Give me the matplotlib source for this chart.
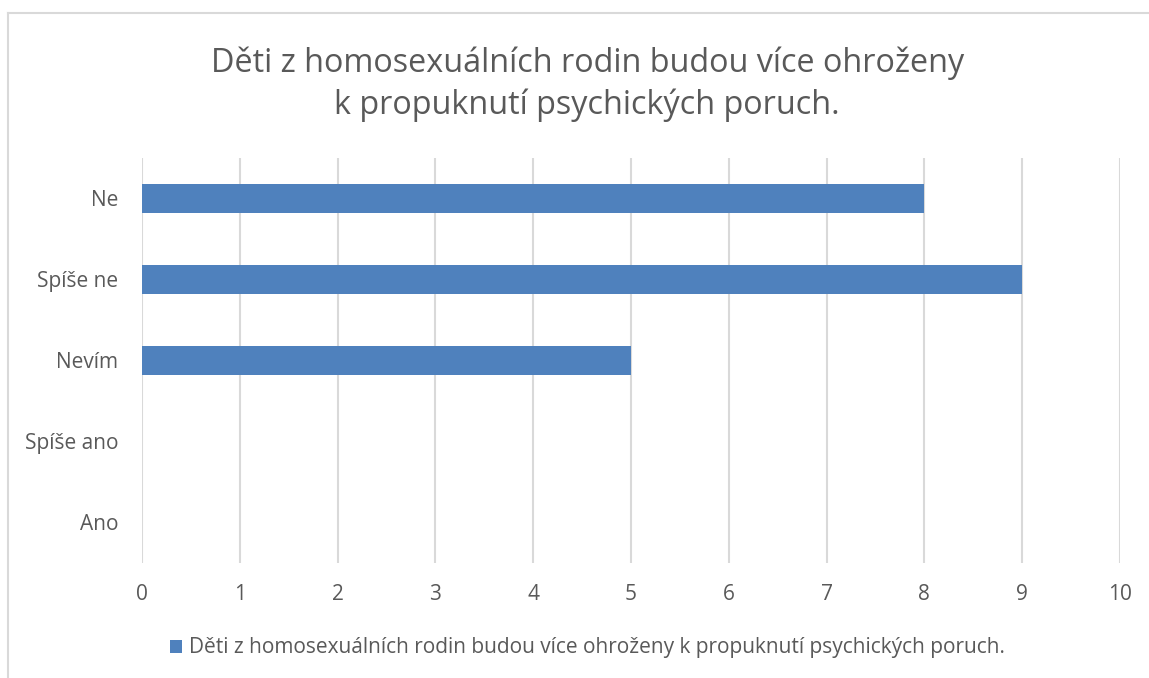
import matplotlib
matplotlib.use("Agg")
import matplotlib.pyplot as plt
from matplotlib.lines import Line2D

categories = ["Ano", "Spíše ano", "Nevím", "Spíše ne", "Ne"]
values = [0, 0, 5, 9, 8]
series_name = "Děti z homosexuálních rodin budou více ohroženy k propuknutí psychických poruch."
title = "Děti z homosexuálních rodin budou více ohroženy\nk propuknutí psychických poruch."
xticks = list(range(0, 11))

plt.rcParams['font.family'] = ['Open Sans', 'DejaVu Sans']
txt = '#595959'
grid = '#D9D9D9'
bar_c = '#4F81BD'

fig = plt.figure(figsize=(11.49, 6.78), dpi=100)
W, H = 1149, 678
ax = fig.add_axes([142 / W, 1 - 563 / H, (1120 - 142) / W, (563 - 158) / H])

y = list(range(len(categories)))
ax.barh(y, values, height=0.36, color=bar_c, label=series_name, zorder=3)
ax.set_xlim(0, 10)
ax.set_ylim(-0.5, len(categories) - 0.5)
ax.set_xticks(xticks)
ax.set_xticklabels([str(t) for t in xticks])
ax.set_yticks(y)
ax.set_yticklabels(categories)
ax.tick_params(axis='both', length=0, colors=txt, labelsize=15)
ax.tick_params(axis='x', pad=15)
ax.tick_params(axis='y', pad=17)
for s in ax.spines.values():
    s.set_visible(False)
ax.xaxis.grid(True, color=grid, linewidth=1.5, zorder=0)
ax.set_axisbelow(True)

fig.text(0.511, 1 - 84.5 / H, title, ha='center', va='center', fontsize=23.3,
         color=txt, linespacing=1.34)

fig.legend(loc='center', bbox_to_anchor=(0.511, 1 - 648 / H), frameon=False,
           fontsize=15, labelcolor=txt, handlelength=0.6, handleheight=0.6,
           handletextpad=0.3)

fig.add_artist(Line2D([8 / W, 8 / W], [0, 1 - 13 / H], color=grid, linewidth=1.5,
                      transform=fig.transFigure))
fig.add_artist(Line2D([8 / W, 1], [1 - 13 / H, 1 - 13 / H], color=grid, linewidth=1.5,
                      transform=fig.transFigure))

fig.savefig("out.png", dpi=100, facecolor='white')
